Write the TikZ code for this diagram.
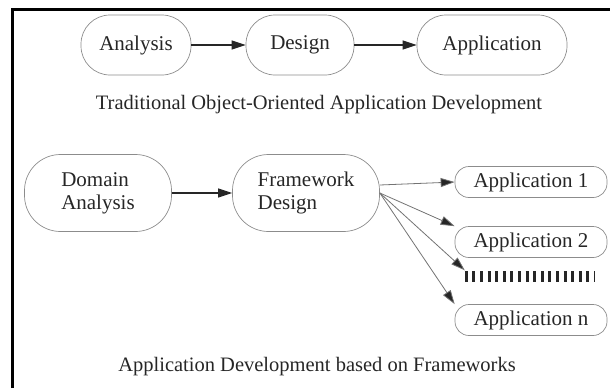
\documentclass[tikz,border=0pt]{standalone}
\usepackage{fontspec}
\setmainfont{Liberation Serif}
\usetikzlibrary{arrows.meta}
\begin{document}
\begin{tikzpicture}[x=1pt,y=-1pt,
  every node/.style={font=\fontsize{21}{23}\selectfont, text=black!85},
  stage/.style={draw=black!45, line width=0.7pt, rounded corners=29pt,
    minimum height=60pt, inner sep=0pt},
  bigstage/.style={draw=black!45, line width=0.7pt, rounded corners=36pt,
    minimum height=77pt, minimum width=147pt, inner sep=0pt, align=left},
  appbox/.style={draw=black!45, line width=0.7pt, rounded corners=14pt,
    minimum height=31pt, minimum width=152pt, inner sep=0pt},
  flow/.style={draw=black!85, line width=1.1pt,
    -{Triangle[length=14pt,width=9pt]}},
  fan/.style={draw=black!55, line width=0.8pt,
    -{Triangle[length=14pt,width=9pt,fill=black!85]}},
  caption/.style={font=\fontsize{20.5}{22}\selectfont}]
\useasboundingbox (0,0) rectangle (610,388);
% frame on the left and top
\draw[line width=3pt] (12.5,388) -- (12.5,9.5) -- (610,9.5);

% traditional development chain
\node[stage, minimum width=110pt] (ana) at (136,45) {Analysis};
\node[stage, minimum width=108pt] (des) at (300,45) {Design};
\node[stage, minimum width=150pt] (app) at (492,45) {Application};
\draw[flow] (ana) -- (des);
\draw[flow] (des) -- (app);
\node[caption] (cap1) at (319,105) {Traditional Object-Oriented Application Development};

% framework based development
\node[bigstage] (dom) at (98,193) {Domain\\Analysis};
\node[bigstage] (fw) at (306,193) {Framework\\Design};
\node[appbox] (a1) at (531,182) {Application 1};
\node[appbox] (a2) at (531,242) {Application 2};
\node[minimum width=130pt, minimum height=11pt, inner sep=0pt] (more) at (530,276) {};
\draw[line width=11pt, dash pattern=on 3pt off 4.6pt, black!85]
  (more.west) -- (more.east);
\node[appbox] (an) at (531,320) {Application n};
\draw[flow] (dom) -- (fw);
\draw[fan] (fw.east) ++(0,-8) coordinate (f1) -- (a1.west);
\draw[fan] (fw.east) -- (a2.north west);
\draw[fan] (fw.east) -- (more.north west);
\draw[fan] (fw.east) -- (an.north west);
\node[caption] (cap2) at (317,367) {Application Development based on Frameworks};
\end{tikzpicture}
\end{document}
